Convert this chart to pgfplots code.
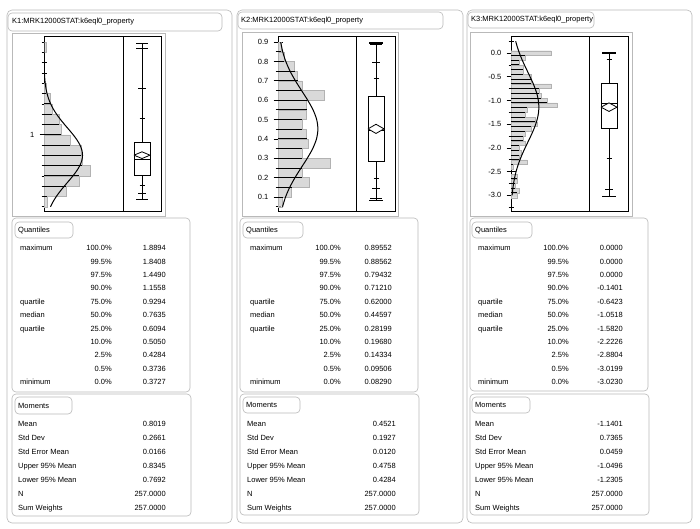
\documentclass[border=0pt]{standalone}
\usepackage{fontspec}
\setmainfont{Liberation Sans}
\usepackage{pgfplots}
\pgfplotsset{compat=1.18}
\newcommand\tf{\fontsize{7.5}{9}\selectfont}
\pgfplotsset{
  hist/.style={scale only axis, height=174.5pt, xmin=0, ytick pos=left, xtick=\empty,
    axis line style={black, line width=0.9pt},
    tick align=center, major tick length=9pt, minor tick length=5pt,
    tick style={black, line width=0.8pt},
    yticklabel style={font=\tf, inner sep=1pt, xshift=-4pt},
    /pgf/number format/assume math mode=true,
    /pgf/number format/fixed, /pgf/number format/fixed zerofill, /pgf/number format/precision=1},
  boxax/.style={scale only axis, height=174.5pt, xtick=\empty, ytick=\empty,
    axis line style={black, line width=0.9pt}},
  bl/.style={black, line width=0.8pt, no markers},
  hbars/.style={xbar, bar shift=0pt, fill=gray!30, draw=gray!60, line width=0.4pt},
  edges/.style={xcomb, black, line width=1pt, no markers},
  curve/.style={smooth, black, line width=1pt, no markers},
}
\newcommand\qtab[4]{%
 \foreach \yy/\lab/\pc/\vv in {#4}{%
   \node[anchor=base west] at (#1,\yy) {\lab};
   \node[anchor=base east] at (#2,\yy) {\pc\%};
   \node[anchor=base east] at (#3,\yy) {\vv};
 }}
\newcommand\mtab[3]{%
 \foreach \yy/\lab/\vv in {#3}{%
   \node[anchor=base west] at (#1,\yy) {\lab};
   \node[anchor=base east] at (#2,\yy) {\vv};
 }}
\begin{document}
\begin{tikzpicture}
\begin{scope}[x=1pt, y=-1pt, font=\tf, every node/.style={inner sep=0pt}]
\path[use as bounding box] (0,0) rectangle (700,529);
\fill[white] (0,0) rectangle (700,529);
% panel frames
\draw[gray!55, line width=0.6pt, rounded corners=5pt] (7,10) rectangle (232,523);
\draw[gray!55, line width=0.6pt, rounded corners=5pt] (237,10) rectangle (463,523);
\draw[gray!55, line width=0.6pt, rounded corners=5pt] (467,10) rectangle (692,523);
% titles
\draw[gray!55, line width=0.6pt, rounded corners=4pt] (8,13) rectangle (222,31);
\node[anchor=west] at (12,22) {K1:MRK12000STAT:k6eql0\_property};
\draw[gray!55, line width=0.6pt, rounded corners=4pt] (238,12) rectangle (443,29);
\node[anchor=west] at (241,20.5) {K2:MRK12000STAT:k6eql0\_property};
\draw[gray!55, line width=0.6pt, rounded corners=4pt] (468,12) rectangle (594,28);
\node[anchor=west] at (471,20) {K3:MRK12000STAT:k6eql0\_property};
% plot report frames
\draw[gray!55, line width=0.6pt] (12,33) rectangle (165,216);
\draw[gray!55, line width=0.6pt] (242,32) rectangle (398,216);
\draw[gray!55, line width=0.6pt] (470,32) rectangle (632,216);
% quantile boxes
\draw[gray!55, line width=0.6pt, rounded corners=4pt] (12,218) rectangle (190,392);
\draw[gray!55, line width=0.6pt, rounded corners=4pt] (15,222) rectangle (73,238);
\node[anchor=west] at (18,230) {Quantiles};
\draw[gray!55, line width=0.6pt, rounded corners=4pt] (240,218) rectangle (418,392);
\draw[gray!55, line width=0.6pt, rounded corners=4pt] (243,222) rectangle (303,238);
\node[anchor=west] at (246,230) {Quantiles};
\draw[gray!55, line width=0.6pt, rounded corners=4pt] (470,218) rectangle (648,391);
\draw[gray!55, line width=0.6pt, rounded corners=4pt] (472,222) rectangle (532,238);
\node[anchor=west] at (475,230) {Quantiles};
% moments boxes
\draw[gray!55, line width=0.6pt, rounded corners=4pt] (12,394) rectangle (191,516);
\draw[gray!55, line width=0.6pt, rounded corners=4pt] (15,397) rectangle (72,414);
\node[anchor=west] at (18,405.5) {Moments};
\draw[gray!55, line width=0.6pt, rounded corners=4pt] (240,394) rectangle (419,515);
\draw[gray!55, line width=0.6pt, rounded corners=4pt] (243,397) rectangle (300,413);
\node[anchor=west] at (246,405) {Moments};
\draw[gray!55, line width=0.6pt, rounded corners=4pt] (470,394) rectangle (649,515);
\draw[gray!55, line width=0.6pt, rounded corners=4pt] (472,397) rectangle (530,413);
\node[anchor=west] at (475,405) {Moments};
% quantile tables
\qtab{20}{112}{166}{250.7/maximum/100.0/1.8894, 264.1/{}/99.5/1.8408, 277.5/{}/97.5/1.4490, 290.9/{}/90.0/1.1558, 304.3/quartile/75.0/0.9294, 317.7/median/50.0/0.7635, 331.1/quartile/25.0/0.6094, 344.5/{}/10.0/0.5050, 357.9/{}/2.5/0.4284, 371.3/{}/0.5/0.3736, 384.7/minimum/0.0/0.3727}
\qtab{250}{341}{392}{250.7/maximum/100.0/0.89552, 264.1/{}/99.5/0.88562, 277.5/{}/97.5/0.79432, 290.9/{}/90.0/0.71210, 304.3/quartile/75.0/0.62000, 317.7/median/50.0/0.44597, 331.1/quartile/25.0/0.28199, 344.5/{}/10.0/0.19680, 357.9/{}/2.5/0.14334, 371.3/{}/0.5/0.09506, 384.7/minimum/0.0/0.08290}
\qtab{478}{569}{623}{250.7/maximum/100.0/0.0000, 264.1/{}/99.5/0.0000, 277.5/{}/97.5/0.0000, 290.9/{}/90.0/-0.1401, 304.3/quartile/75.0/-0.6423, 317.7/median/50.0/-1.0518, 331.1/quartile/25.0/-1.5820, 344.5/{}/10.0/-2.2226, 357.9/{}/2.5/-2.8804, 371.3/{}/0.5/-3.0199, 384.7/minimum/0.0/-3.0230}
% moments tables
\mtab{18}{166}{426.7/Mean/0.8019, 440.6/Std Dev/0.2661, 454.5/Std Error Mean/0.0166, 468.4/Upper 95\% Mean/0.8345, 482.3/Lower 95\% Mean/0.7692, 496.2/N/257.0000, 510.0/Sum Weights/257.0000}
\mtab{247}{396}{426.7/Mean/0.4521, 440.6/Std Dev/0.1927, 454.5/Std Error Mean/0.0120, 468.4/Upper 95\% Mean/0.4758, 482.3/Lower 95\% Mean/0.4284, 496.2/N/257.0000, 510.0/Sum Weights/257.0000}
\mtab{475}{623}{426.7/Mean/-1.1401, 440.6/Std Dev/0.7365, 454.5/Std Error Mean/0.0459, 468.4/Upper 95\% Mean/-1.0496, 482.3/Lower 95\% Mean/-1.2305, 496.2/N/257.0000, 510.0/Sum Weights/257.0000}
\end{scope}

% ================= K1 =================
\begin{axis}[hist, at={(44pt,-211pt)}, anchor=south west, width=79pt, xmax=79,
  ymin=0.259, ymax=1.956, ytick={1}, yticklabels={1},
  minor ytick={0.3,0.4,0.5,0.6,0.7,0.8,0.9,1.0,1.1,1.2,1.3,1.4,1.5,1.6,1.7,1.8,1.9}]
\addplot[hbars, bar width=0.1] coordinates {(3,0.35)(22,0.45)(35,0.55)(46,0.65)(38,0.75)(37,0.85)(26,0.95)(17,1.05)(15,1.15)(8,1.25)(6,1.35)(2,1.45)(2,1.85)};
\addplot[edges] coordinates {(3,0.4)(22,0.5)(35,0.6)(38,0.7)(37,0.8)(26,0.9)(17,1.0)(15,1.1)(8,1.2)(6,1.3)(2,1.4)};
\addplot[curve] coordinates {(6.50,0.30)(9.11,0.35)(12.31,0.40)(16.07,0.45)(20.24,0.50)(24.62,0.55)(28.89,0.60)(32.74,0.65)(35.81,0.70)(37.80,0.75)(38.53,0.80)(37.91,0.85)(36.00,0.90)(33.00,0.95)(29.21,1.00)(24.95,1.05)(20.57,1.10)(16.38,1.15)(12.58,1.20)(9.33,1.25)(6.68,1.30)(4.62,1.35)(3.08,1.40)(1.99,1.45)(1.23,1.50)(0.74,1.55)(0.43,1.60)(0.13,1.70)(0.03,1.80)(0.01,1.90)};
\end{axis}
\begin{axis}[boxax, at={(123pt,-211pt)}, anchor=south west, width=38pt, xmin=-19, xmax=19, ymin=0.259, ymax=1.956]
\addplot[bl] coordinates {(0,0.3727)(0,1.8894)};
\addplot[bl, line width=1.2pt] coordinates {(-6,0.3727)(6,0.3727)};
\addplot[bl, line width=1.2pt] coordinates {(-6,1.8894)(6,1.8894)};
\addplot[bl] coordinates {(-6,1.8408)(6,1.8408)};
\addplot[bl] coordinates {(-6,0.3736)(6,0.3736)};
\addplot[bl] coordinates {(-4,1.4490)(4,1.4490)};
\addplot[bl] coordinates {(-4,0.4284)(4,0.4284)};
\addplot[bl] coordinates {(-2.5,1.1558)(2.5,1.1558)};
\addplot[bl] coordinates {(-2.5,0.5050)(2.5,0.5050)};
\addplot[bl, fill=white] coordinates {(-8,0.6094)(8,0.6094)(8,0.9294)(-8,0.9294)(-8,0.6094)};
\addplot[bl] coordinates {(-8,0.7635)(8,0.7635)};
\addplot[bl, fill=white] coordinates {(-8,0.8019)(0,0.8345)(8,0.8019)(0,0.7692)(-8,0.8019)};
\end{axis}

% ================= K2 =================
\begin{axis}[hist, at={(278pt,-211pt)}, anchor=south west, width=78pt, xmax=52,
  ymin=0.028, ymax=0.929, ytick={0.1,0.2,0.3,0.4,0.5,0.6,0.7,0.8,0.9},
  minor ytick={0.05,0.15,0.25,0.35,0.45,0.55,0.65,0.75,0.85}]
\addplot[hbars, bar width=0.05] coordinates {(3,0.075)(9,0.125)(21,0.175)(16,0.225)(35,0.275)(16,0.325)(20,0.375)(19,0.425)(16,0.475)(19,0.525)(19,0.575)(31,0.625)(16,0.675)(13,0.725)(11,0.775)(4,0.825)(2,0.875)};
\addplot[edges] coordinates {(3,0.10)(9,0.15)(16,0.20)(16,0.25)(16,0.30)(16,0.35)(19,0.40)(16,0.45)(16,0.50)(19,0.55)(19,0.60)(16,0.65)(13,0.70)(11,0.75)(4,0.80)(2,0.85)};
\addplot[curve] coordinates {(3.02,0.05)(5.02,0.10)(7.79,0.15)(11.31,0.20)(15.35,0.25)(19.49,0.30)(23.12,0.35)(25.65,0.40)(26.60,0.45)(25.79,0.50)(23.38,0.55)(19.81,0.60)(15.70,0.65)(11.63,0.70)(8.05,0.75)(5.21,0.80)(3.15,0.85)(1.79,0.90)};
\end{axis}
\begin{axis}[boxax, at={(356pt,-211pt)}, anchor=south west, width=39pt, xmin=-20, xmax=19, ymin=0.028, ymax=0.929]
\addplot[bl] coordinates {(0,0.08290)(0,0.89552)};
\addplot[bl, line width=1.2pt] coordinates {(-7,0.08290)(7,0.08290)};
\addplot[bl, line width=1.2pt] coordinates {(-7,0.89552)(7,0.89552)};
\addplot[bl] coordinates {(-6,0.88562)(6,0.88562)};
\addplot[bl] coordinates {(-6,0.09506)(6,0.09506)};
\addplot[bl] coordinates {(-4,0.79432)(4,0.79432)};
\addplot[bl] coordinates {(-4,0.14334)(4,0.14334)};
\addplot[bl] coordinates {(-2.5,0.71210)(2.5,0.71210)};
\addplot[bl] coordinates {(-2.5,0.19680)(2.5,0.19680)};
\addplot[bl, fill=white] coordinates {(-8,0.28199)(8,0.28199)(8,0.62000)(-8,0.62000)(-8,0.28199)};
\addplot[bl] coordinates {(-8,0.44597)(8,0.44597)};
\addplot[bl, fill=white] coordinates {(-8,0.4521)(0,0.4758)(8,0.4521)(0,0.4284)(-8,0.4521)};
\end{axis}

% ================= K3 =================
\begin{axis}[hist, at={(511pt,-211pt)}, anchor=south west, width=78pt, xmax=39,
  ymin=-3.33, ymax=0.35, ytick={-3,-2.5,-2,-1.5,-1,-0.5,0},
  minor ytick={0.25,-0.25,-0.75,-1.25,-1.75,-2.25,-2.75,-3.25}]
\addplot[hbars, bar width=0.1] coordinates {(20,0)(7,-0.1)(4,-0.2)(6,-0.3)(6,-0.4)(10,-0.5)(10,-0.6)(20,-0.7)(14,-0.8)(15,-0.9)(18,-1.0)(23,-1.1)(8,-1.2)(7,-1.3)(12,-1.4)(13,-1.5)(10,-1.6)(7,-1.7)(6,-1.8)(7,-1.9)(4,-2.0)(5,-2.1)(4,-2.2)(8,-2.3)(1,-2.4)(3,-2.6)(3,-2.7)(2,-2.8)(4,-2.9)(3,-3.0)};
\addplot[edges] coordinates {(7,-0.05)(4,-0.15)(4,-0.25)(6,-0.35)(6,-0.45)(10,-0.55)(10,-0.65)(14,-0.75)(14,-0.85)(15,-0.95)(18,-1.05)(8,-1.15)(7,-1.25)(7,-1.35)(12,-1.45)(10,-1.55)(7,-1.65)(6,-1.75)(6,-1.85)(4,-1.95)(4,-2.05)(4,-2.15)(4,-2.25)(1,-2.35)(3,-2.65)(2,-2.75)(2,-2.85)(3,-2.95)};
\addplot[curve] coordinates {(2.34,0.25)(3.18,0.125)(4.20,0)(5.38,-0.125)(6.71,-0.25)(8.12,-0.375)(9.54,-0.5)(10.90,-0.625)(12.10,-0.75)(13.05,-0.875)(13.67,-1.0)(13.92,-1.125)(13.77,-1.25)(13.23,-1.375)(12.35,-1.5)(11.21,-1.625)(9.88,-1.75)(8.46,-1.875)(7.04,-2.0)(5.69,-2.125)(4.47,-2.25)(3.41,-2.375)(2.53,-2.5)(1.82,-2.625)(1.28,-2.75)(0.87,-2.875)(0.57,-3.0)};
\end{axis}
\begin{axis}[boxax, at={(589pt,-211pt)}, anchor=south west, width=39pt, xmin=-20, xmax=19, ymin=-3.33, ymax=0.35]
\addplot[bl] coordinates {(0,-3.0230)(0,0)};
\addplot[bl, line width=1.2pt] coordinates {(-7,-3.0230)(7,-3.0230)};
\addplot[bl, line width=1.2pt] coordinates {(-7,0)(7,0)};
\addplot[bl] coordinates {(-6,-3.0199)(6,-3.0199)};
\addplot[bl] coordinates {(-4,-2.8804)(4,-2.8804)};
\addplot[bl] coordinates {(-2.5,-0.1401)(2.5,-0.1401)};
\addplot[bl] coordinates {(-2.5,-2.2226)(2.5,-2.2226)};
\addplot[bl, fill=white] coordinates {(-8,-1.5820)(8,-1.5820)(8,-0.6423)(-8,-0.6423)(-8,-1.5820)};
\addplot[bl] coordinates {(-8,-1.0518)(8,-1.0518)};
\addplot[bl, fill=white] coordinates {(-8,-1.1401)(0,-1.0496)(8,-1.1401)(0,-1.2305)(-8,-1.1401)};
\end{axis}
\end{tikzpicture}
\end{document}
